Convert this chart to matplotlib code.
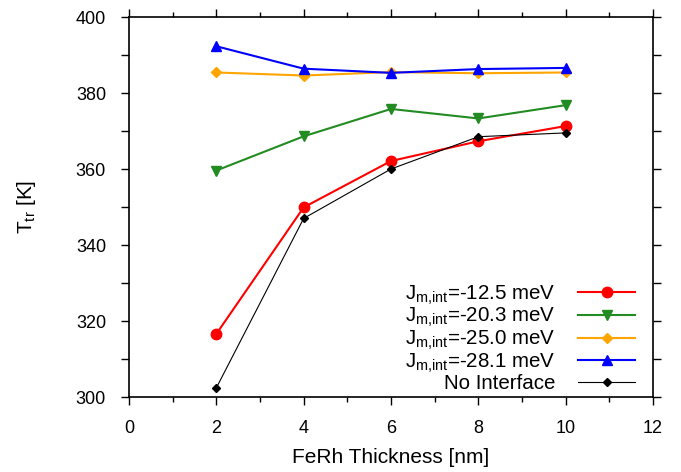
import matplotlib
matplotlib.use("Agg")
import matplotlib.pyplot as plt
from matplotlib.ticker import MultipleLocator, FuncFormatter

plt.rcParams['font.family'] = ['Liberation Sans', 'DejaVu Sans']
plt.rcParams['mathtext.fontset'] = 'custom'
plt.rcParams['mathtext.rm'] = 'Liberation Sans'
plt.rcParams['mathtext.it'] = 'Liberation Sans:italic'

thickness = [2, 4, 6, 8, 10]
j125 = [316.6, 349.9, 362.1, 367.3, 371.3]
j203 = [359.6, 368.6, 375.8, 373.3, 376.8]
j250 = [385.4, 384.6, 385.5, 385.2, 385.4]
j281 = [392.3, 386.4, 385.3, 386.3, 386.6]
no_int = [302.4, 347.0, 360.0, 368.5, 369.5]

labels = [r'J$_{\mathrm{m{,}int}}$=-12.5 meV', r'J$_{\mathrm{m{,}int}}$=-20.3 meV',
          r'J$_{\mathrm{m{,}int}}$=-25.0 meV', r'J$_{\mathrm{m{,}int}}$=-28.1 meV', 'No Interface']

fig = plt.figure(figsize=(6.81, 4.72), dpi=100)
ax = fig.add_axes([129/681, 75/472, (653-129)/681, (397-17)/472])

ax.plot(thickness, j125, color='#ff0000', lw=1.5, marker='o', ms=7.5, label=labels[0])
ax.plot(thickness, j203, color='#228b22', lw=1.5, marker='v', ms=6.5, label=labels[1])
ax.plot(thickness, j250, color='#ffa500', lw=1.5, marker='D', ms=5.5, label=labels[2])
ax.plot(thickness, j281, color='#0000ff', lw=1.5, marker='^', ms=6.5, label=labels[3])
ax.plot(thickness, no_int, color='black', lw=0.8, marker='D', ms=4, label=labels[4])

ax.set_xlim(0, 12)
ax.set_ylim(300, 400)
ax.xaxis.set_major_locator(MultipleLocator(2))
ax.xaxis.set_minor_locator(MultipleLocator(1))
ax.yaxis.set_major_locator(MultipleLocator(10))
ax.yaxis.set_major_formatter(FuncFormatter(lambda v, p: f'{int(round(v))}' if int(round(v)) % 20 == 0 else ''))

ax.tick_params(which='both', direction='out', top=True, right=True, labeltop=False, labelright=False,
               width=1.0, labelsize=13)
ax.tick_params(which='major', length=6, pad=10.5)
ax.tick_params(which='minor', length=3.5)
for s in ax.spines.values():
    s.set_linewidth(1.2)

ax.set_xlabel('FeRh Thickness [nm]', fontsize=15, labelpad=8)
ax.set_ylabel(r'T$_{\mathrm{tr}}$ [K]', fontsize=15, labelpad=27)

leg = ax.legend(loc='lower right', frameon=False, markerfirst=False, fontsize=14.8,
                handlelength=2.8, handletextpad=1.1, labelspacing=-0.03,
                bbox_to_anchor=(0.99, -0.022), borderaxespad=0.2)
for t in leg.get_texts():
    t.set_ha('right')
leg._legend_box.align = 'right'

fig.savefig('out.png', dpi=100)
